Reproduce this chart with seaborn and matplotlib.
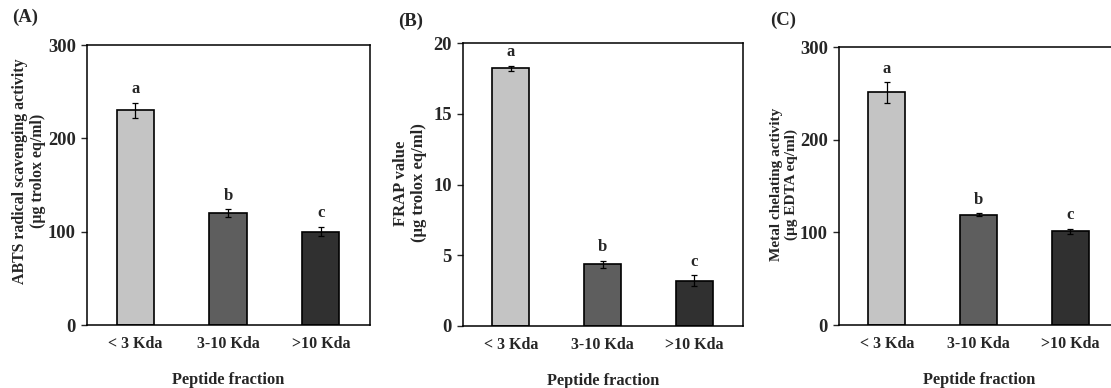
import matplotlib
matplotlib.use("Agg")
import matplotlib.pyplot as plt
import seaborn as sns
import numpy as np

# ---- data ----
categories = ["< 3 Kda", "3-10 Kda", ">10 Kda"]
abts_mean = [230, 120, 100]
abts_err = [8, 4, 5]
frap_mean = [18.2, 4.35, 3.2]
frap_err = [0.18, 0.27, 0.4]
metal_mean = [251, 119, 101]
metal_err = [11, 1.5, 3]
sig_letters = ["a", "b", "c"]
panel_tags = ["(A)", "(B)", "(C)"]
ylabels = ["ABTS radical scavenging activity\n(µg trolox eq/ml)",
           "FRAP value\n(µg trolox eq/ml)",
           "Metal chelating activity\n(µg EDTA eq/ml)"]
yticks_list = [[0, 100, 200, 300], [0, 5, 10, 15, 20], [0, 100, 200, 300]]
ylims = [(0, 300), (0, 20), (0, 300)]
xlabel = "Peptide fraction"

bar_colors = ["#c4c4c4", "#5e5e5e", "#303030"]

sns.set_theme(style="white")
plt.rcParams["font.family"] = ["Liberation Serif", "DejaVu Serif"]
plt.rcParams["font.weight"] = "bold"

W, H = 1111, 388
fig = plt.figure(figsize=(W / 100, H / 100), dpi=100)

# axes boxes in pixels: left, top, width, height
boxes = [(87, 45, 283, 280), (463, 43, 280, 283), (839, 47, 280, 278)]
label_off = [58, 53, 55]
label_cy = [171, 183, 184]
label_fs = [11.4, 12, 11]
tag_pos = [(25, 17), (411, 21), (783, 20)]

datasets = [(abts_mean, abts_err), (frap_mean, frap_err), (metal_mean, metal_err)]

for i, ((means, errs), (l, t, w, h)) in enumerate(zip(datasets, boxes)):
    ax = fig.add_axes([l / W, (H - t - h) / H, w / W, h / H])
    sns.barplot(x=categories, y=means, hue=categories, palette=bar_colors,
                width=0.4, edgecolor="black", linewidth=1.2, legend=False,
                saturation=1, ax=ax)
    xpos = np.arange(len(categories))
    ax.errorbar(xpos, means, yerr=errs, fmt="none", ecolor="black",
                elinewidth=0.9, capsize=2.5, capthick=0.9)
    for x, m, e, s in zip(xpos, means, errs, sig_letters):
        ax.annotate(s, (x, m + e), xytext=(0, 4), textcoords="offset points",
                    ha="center", va="bottom", fontsize=12, fontweight="bold")
    ax.set_xlim(-0.52, 2.53)
    ax.set_ylim(*ylims[i])
    ax.set_yticks(yticks_list[i])
    ax.tick_params(axis="y", direction="out", length=4, width=1, left=True,
                   labelsize=13.3, pad=4)
    ax.tick_params(axis="x", length=0, labelsize=11.5, pad=8)
    for lab in ax.get_xticklabels() + ax.get_yticklabels():
        lab.set_fontweight("bold")
    for sp in ax.spines.values():
        sp.set_visible(True)
        sp.set_color("black")
        sp.set_linewidth(1.1)
    ax.set_ylabel(ylabels[i], fontsize=label_fs[i], fontweight="bold", linespacing=1.15)
    ax.yaxis.label.set_va("center")
    ax.yaxis.set_label_coords(-label_off[i] / w, (t + h - label_cy[i]) / h)
    ax.set_xlabel(xlabel, fontsize=11.8, fontweight="bold", labelpad=14)
    fig.text(tag_pos[i][0] / W, 1 - tag_pos[i][1] / H, panel_tags[i],
             fontsize=13.5, fontweight="bold", ha="center", va="center")

fig.savefig("out.png", dpi=100)
